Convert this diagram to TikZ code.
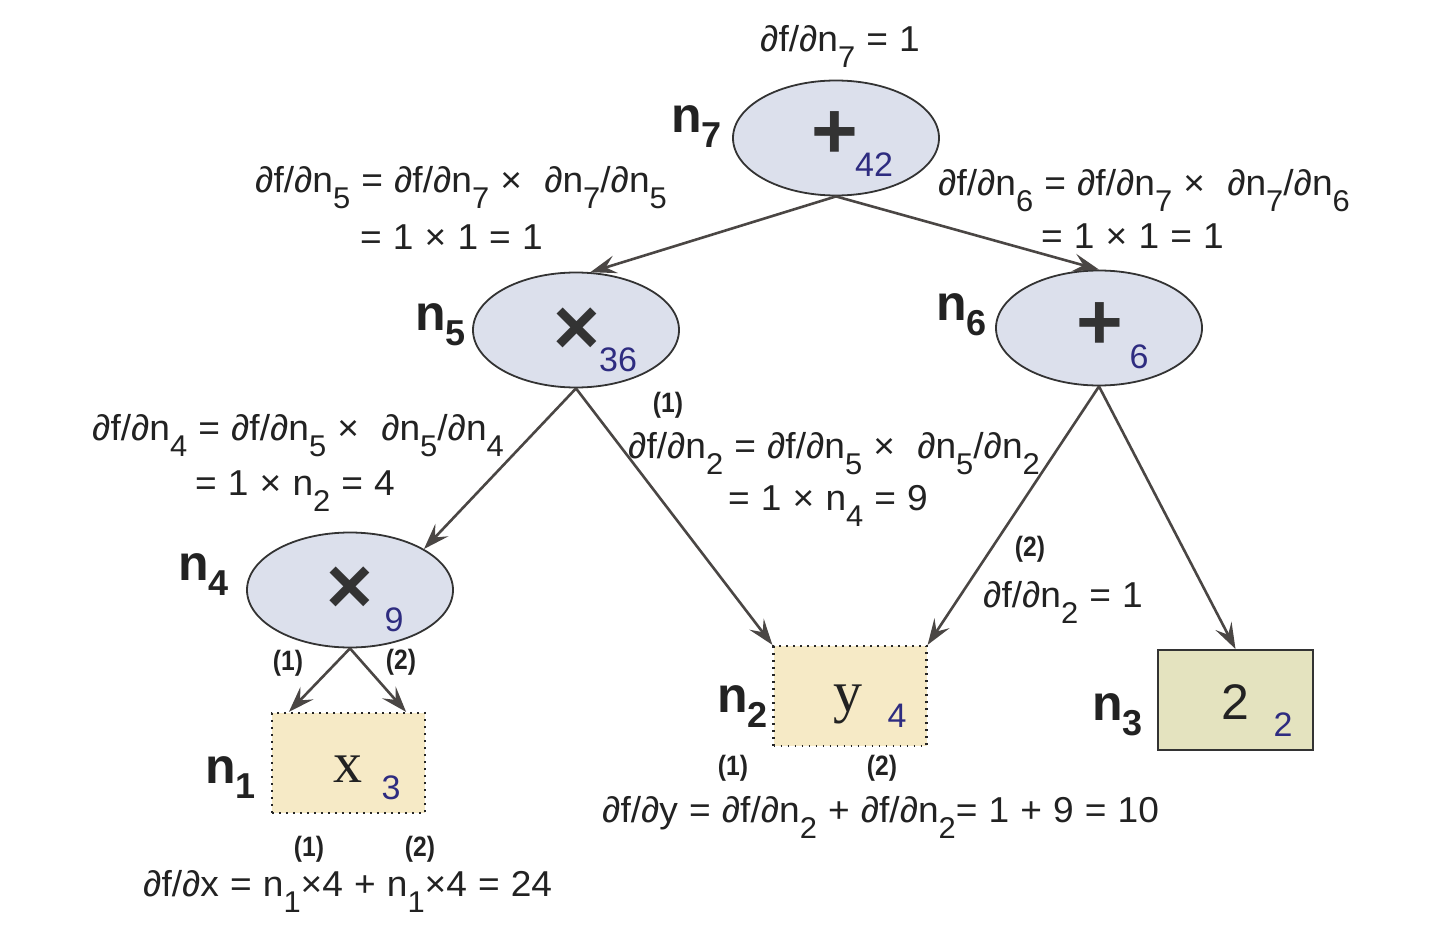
\documentclass[tikz,border=0pt]{standalone}
\usepackage{fontspec}
\setmainfont{Liberation Sans}
\newfontfamily\gfam{Liberation Sans}[FakeStretch=1.03,WordSpace=1.08]
\newfontfamily\seriffam{Liberation Serif}
\usetikzlibrary{shapes.geometric,arrows.meta}
\definecolor{txtc}{HTML}{222222}
\definecolor{ellfill}{HTML}{DCE0EC}
\definecolor{ellline}{HTML}{333333}
\definecolor{boxfill}{HTML}{F6EAC6}
\definecolor{boxthree}{HTML}{E4E3BF}
\definecolor{valc}{HTML}{2E2C80}
\definecolor{arrc}{HTML}{4A4644}
\newcommand\lo[1]{\raisebox{-16pt}{\fontsize{30}{30}\selectfont #1}}
\newcommand\blo[1]{\raisebox{-15pt}{\fontsize{36}{36}\selectfont\bfseries #1}}
\newcommand\narrow[1]{\scalebox{0.88}[1]{#1}}
\begin{document}
\begin{tikzpicture}[x=1pt,y=-1pt,
  ftxt/.style={font=\gfam\fontsize{36}{40}\selectfont, text=txtc, inner sep=0pt, anchor=base west},
  nlbl/.style={font=\fontsize{50}{50}\selectfont\bfseries, text=txtc, inner sep=0pt, anchor=base west},
  num/.style={font=\fontsize{28}{28}\selectfont\bfseries, text=txtc, inner sep=0pt},
  ell/.style={ellipse, draw=ellline, line width=1.8pt, fill=ellfill, minimum width=206pt, minimum height=115pt, inner sep=0pt},
  dbox/.style={rectangle, draw=black!85, fill=boxfill, line width=2.2pt, dash pattern=on 1.6pt off 5.4pt, minimum width=153pt, minimum height=100pt, inner sep=0pt},
  sbox/.style={rectangle, draw=ellline, fill=boxthree, line width=2pt, minimum width=155pt, minimum height=100pt, inner sep=0pt},
  opsym/.style={font=\fontsize{80}{80}\selectfont\bfseries, text=black!80, inner sep=0pt},
  val/.style={font=\fontsize{34}{34}\selectfont, text=valc, inner sep=0pt},
  leaf/.style={font=\seriffam\fontsize{58}{58}\selectfont, text=txtc, inner sep=0pt, anchor=base},
  arr/.style={draw=arrc, line width=2.6pt, -{Stealth[length=26pt,width=18pt,inset=10pt]}}
]
\useasboundingbox (0,0) rectangle (1440,928);
\fill[white] (0,0) rectangle (1440,928);

% operation nodes
\node[ell] (n7) at (836,138) {};
\node[ell] (n5) at (576,330) {};
\node[ell] (n6) at (1099,328) {};
\node[ell] (n4) at (350,590) {};
% leaf nodes
\node[dbox] (n1) at (348.5,763) {};
\node[dbox] (n2) at (850,696) {};
\node[sbox] (n3) at (1235.5,700) {};

% symbols and values
\node[opsym] (o7) at (835,135) {+};
\node[val] (v7) at (874,165) {42};
\node[opsym] (o5) at (577,331) {×};
\node[val] (v5) at (618,360) {36};
\node[opsym] (o6) at (1100,326) {+};
\node[val] (v6) at (1139,357) {6};
\node[opsym] (o4) at (350,590) {×};
\node[val] (v4) at (394,620) {9};
\node[leaf] (x1) at (348,782) {x};
\node[val] (v1) at (391,788) {3};
\node[leaf] (y2) at (848,711) {y};
\node[val] (v2) at (897,716) {4};
\node[font=\fontsize{50}{50}\selectfont, text=txtc, inner sep=0pt] (c3) at (1235,702) {2};
\node[val] (v3) at (1283,725) {2};

% node labels
\node[nlbl] (l7) at (671,133) {n\blo{7}};
\node[nlbl] (l5) at (415,330) {n\blo{5}};
\node[nlbl] (l6) at (936,320) {n\blo{6}};
\node[nlbl] (l4) at (178,580) {n\blo{4}};
\node[nlbl] (l1) at (205,783) {n\blo{1}};
\node[nlbl] (l2) at (717,712) {n\blo{2}};
\node[nlbl] (l3) at (1092,720) {n\blo{3}};

% connectors
\draw[arr] (n7.south) -- (n5.76);
\draw[arr] (n7.south) -- (n6.north);
\draw[arr] (n5.south) -- (n4.29);
\draw[arr] (n5.south) -- (n2.north west);
\draw[arr] (n6.south) -- (n2.north east);
\draw[arr] (n6.south) -- (n3.north);
\draw[arr] (n4.south) -- ([xshift=18pt]n1.north west);
\draw[arr] (n4.south) -- ([xshift=-20pt]n1.north east);

% gradient texts
\node[ftxt] (g7) at (760,52) {∂f/∂n\lo{7} = 1};
\node[ftxt] (g5a) at (255,193) {∂f/∂n\lo{5} = ∂f/∂n\lo{7} ×\ \ ∂n\lo{7}/∂n\lo{5}};
\node[ftxt] (g5b) at (360,249) {= 1 × 1 = 1};
\node[ftxt] (g6a) at (938,196) {∂f/∂n\lo{6} = ∂f/∂n\lo{7} ×\ \ ∂n\lo{7}/∂n\lo{6}};
\node[ftxt] (g6b) at (1041,248) {= 1 × 1 = 1};
\node[ftxt] (g4a) at (92,440) {∂f/∂n\lo{4} = ∂f/∂n\lo{5} ×\ \ ∂n\lo{5}/∂n\lo{4}};
\node[ftxt] (g4b) at (195,495) {= 1 × n\lo{2} = 4};
\node[num] (k1a) at (668,405) {\narrow{(1)}};
\node[ftxt] (g2a) at (628,458) {∂f/∂n\lo{2} = ∂f/∂n\lo{5} ×\ \ ∂n\lo{5}/∂n\lo{2}};
\node[ftxt] (g2b) at (728,510) {= 1 × n\lo{4} = 9};
\node[num] (k2a) at (1030,549) {\narrow{(2)}};
\node[ftxt] (g2c) at (983,607) {∂f/∂n\lo{2} = 1};
\node[num] (k1b) at (288,663) {\narrow{(1)}};
\node[num] (k2b) at (401,662) {\narrow{(2)}};
\node[num] (k1c) at (733,768) {\narrow{(1)}};
\node[num] (k2c) at (882,768) {\narrow{(2)}};
\node[ftxt] (gy) at (602,822) {∂f/∂y = ∂f/∂n\lo{2} + ∂f/∂n\lo{2}= 1 + 9 = 10};
\node[num] (k1d) at (309,849) {\narrow{(1)}};
\node[num] (k2d) at (420,849) {\narrow{(2)}};
\node[ftxt] (gx) at (143,896) {∂f/∂x = n\lo{1}×4 + n\lo{1}×4 = 24};
\end{tikzpicture}
\end{document}
